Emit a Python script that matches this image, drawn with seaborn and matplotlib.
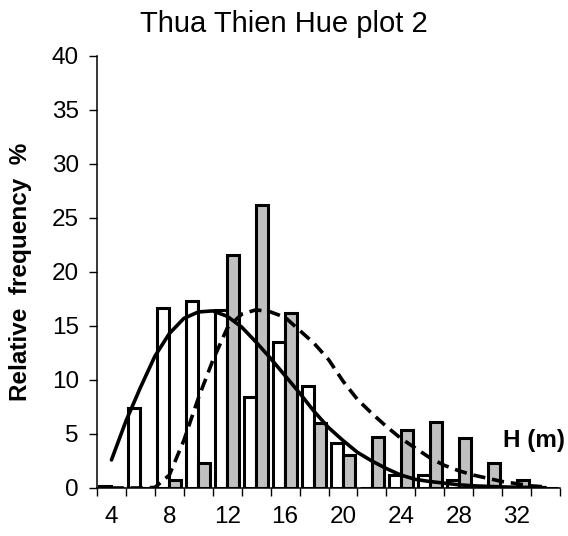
import matplotlib
matplotlib.use("Agg")
import matplotlib.pyplot as plt
import seaborn as sns
import pandas as pd
from matplotlib.ticker import FixedLocator

# ---- data ----
H = [4, 6, 8, 10, 12, 14, 16, 18, 20, 22, 24, 26, 28, 30, 32, 34]
white_vals = [0.2, 7.4, 16.7, 17.3, 16.5, 8.4, 13.5, 9.4, 4.2, 0.0, 1.2, 1.2, 0.7, 0.0, 0.0, 0.0]
gray_vals = [0.0, 0.0, 0.7, 2.3, 21.6, 26.2, 16.2, 6.0, 3.1, 4.7, 5.4, 6.1, 4.6, 2.3, 0.7, 0.0]

curve_x = [4, 5, 6, 7, 8, 9, 10, 11, 12, 13, 14, 15, 16, 17, 18, 19, 20,
           21, 22, 23, 24, 25, 26, 27, 28, 29, 30, 31, 32, 33, 34]
solid_curve = [2.6, 6.2, 9.3, 12.2, 14.3, 15.7, 16.3, 16.4, 15.9, 14.9, 13.5,
               12.0, 10.4, 8.8, 7.1, 5.6, 4.4, 3.3, 2.5, 1.8, 1.2, 0.8, 0.6,
               0.45, 0.3, 0.2, 0.15, 0.1, 0.07, 0.05, 0.03]
dashed_curve = [0.0, 0.0, 0.0, 0.05, 1.2, 4.4, 8.3, 11.8, 14.8, 16.1, 16.5,
                16.3, 15.8, 14.6, 13.4, 11.9, 9.9, 8.2, 6.9, 5.7, 4.6, 3.7,
                2.8, 2.1, 1.6, 1.2, 0.9, 0.6, 0.4, 0.2, 0.1]

series_names = ["A", "B"]
y_ticks = [0, 5, 10, 15, 20, 25, 30, 35, 40]
x_tick_labels = [4, 8, 12, 16, 20, 24, 28, 32]

# ---- styling ----
sns.set_style("ticks")
plt.rcParams["font.family"] = ["Liberation Sans", "DejaVu Sans"]
plt.rcParams["text.color"] = "black"
plt.rcParams["axes.labelcolor"] = "black"
plt.rcParams["xtick.color"] = "black"
plt.rcParams["ytick.color"] = "black"

df = pd.DataFrame({
    "H": H + H,
    "value": white_vals + gray_vals,
    "series": [series_names[0]] * len(H) + [series_names[1]] * len(H),
})

fig = plt.figure(figsize=(5.68, 5.36), dpi=100)
ax = fig.add_axes([97 / 568, 1 - 488 / 536, (560 - 97) / 568, (488 - 56) / 536])

sns.barplot(data=df, x="H", y="value", hue="series", native_scale=True,
            palette={"A": "white", "B": "#C0C0C0"}, edgecolor="black",
            linewidth=2.2, width=0.84, dodge=True, legend=False, ax=ax,
            saturation=1)

sns.lineplot(x=curve_x, y=solid_curve, color="black", linewidth=2.6, ax=ax,
             zorder=5)
sns.lineplot(x=curve_x, y=dashed_curve, color="black", linewidth=2.6, ax=ax,
             linestyle=(0, (3.4, 1.9)), zorder=5)

ax.set_xlim(3, 35)
ax.set_ylim(0, 40)
ax.set_yticks(y_ticks)
ax.set_xticks(x_tick_labels)
ax.set_xticklabels([str(v) for v in x_tick_labels])
ax.xaxis.set_minor_locator(FixedLocator([3 + 2 * i for i in range(17)]))
ax.tick_params(axis="x", which="major", length=0, pad=13, labelsize=17.5,
               labelcolor="black")
ax.tick_params(axis="x", which="minor", length=6, width=1, direction="out",
               color="black")
ax.tick_params(axis="y", which="major", length=6, width=1, pad=7,
               labelsize=17.5, color="black", labelcolor="black")

for s in ["top", "right"]:
    ax.spines[s].set_visible(False)
for s in ["left", "bottom"]:
    ax.spines[s].set_linewidth(1.1)
    ax.spines[s].set_color("black")

ax.set_xlabel("")
ax.set_ylabel("Relative  frequency  %", fontsize=17.5, fontweight="bold",
              labelpad=14, color="black")
ax.text(0.944, 0.111, "H (m)", transform=ax.transAxes, ha="center",
        va="center", fontsize=17.5, fontweight="bold", color="black")

fig.text(0.5, 1 - 24 / 536, "Thua Thien Hue plot 2", ha="center",
         va="center", fontsize=21, color="black")

fig.savefig("out.png", dpi=100)
